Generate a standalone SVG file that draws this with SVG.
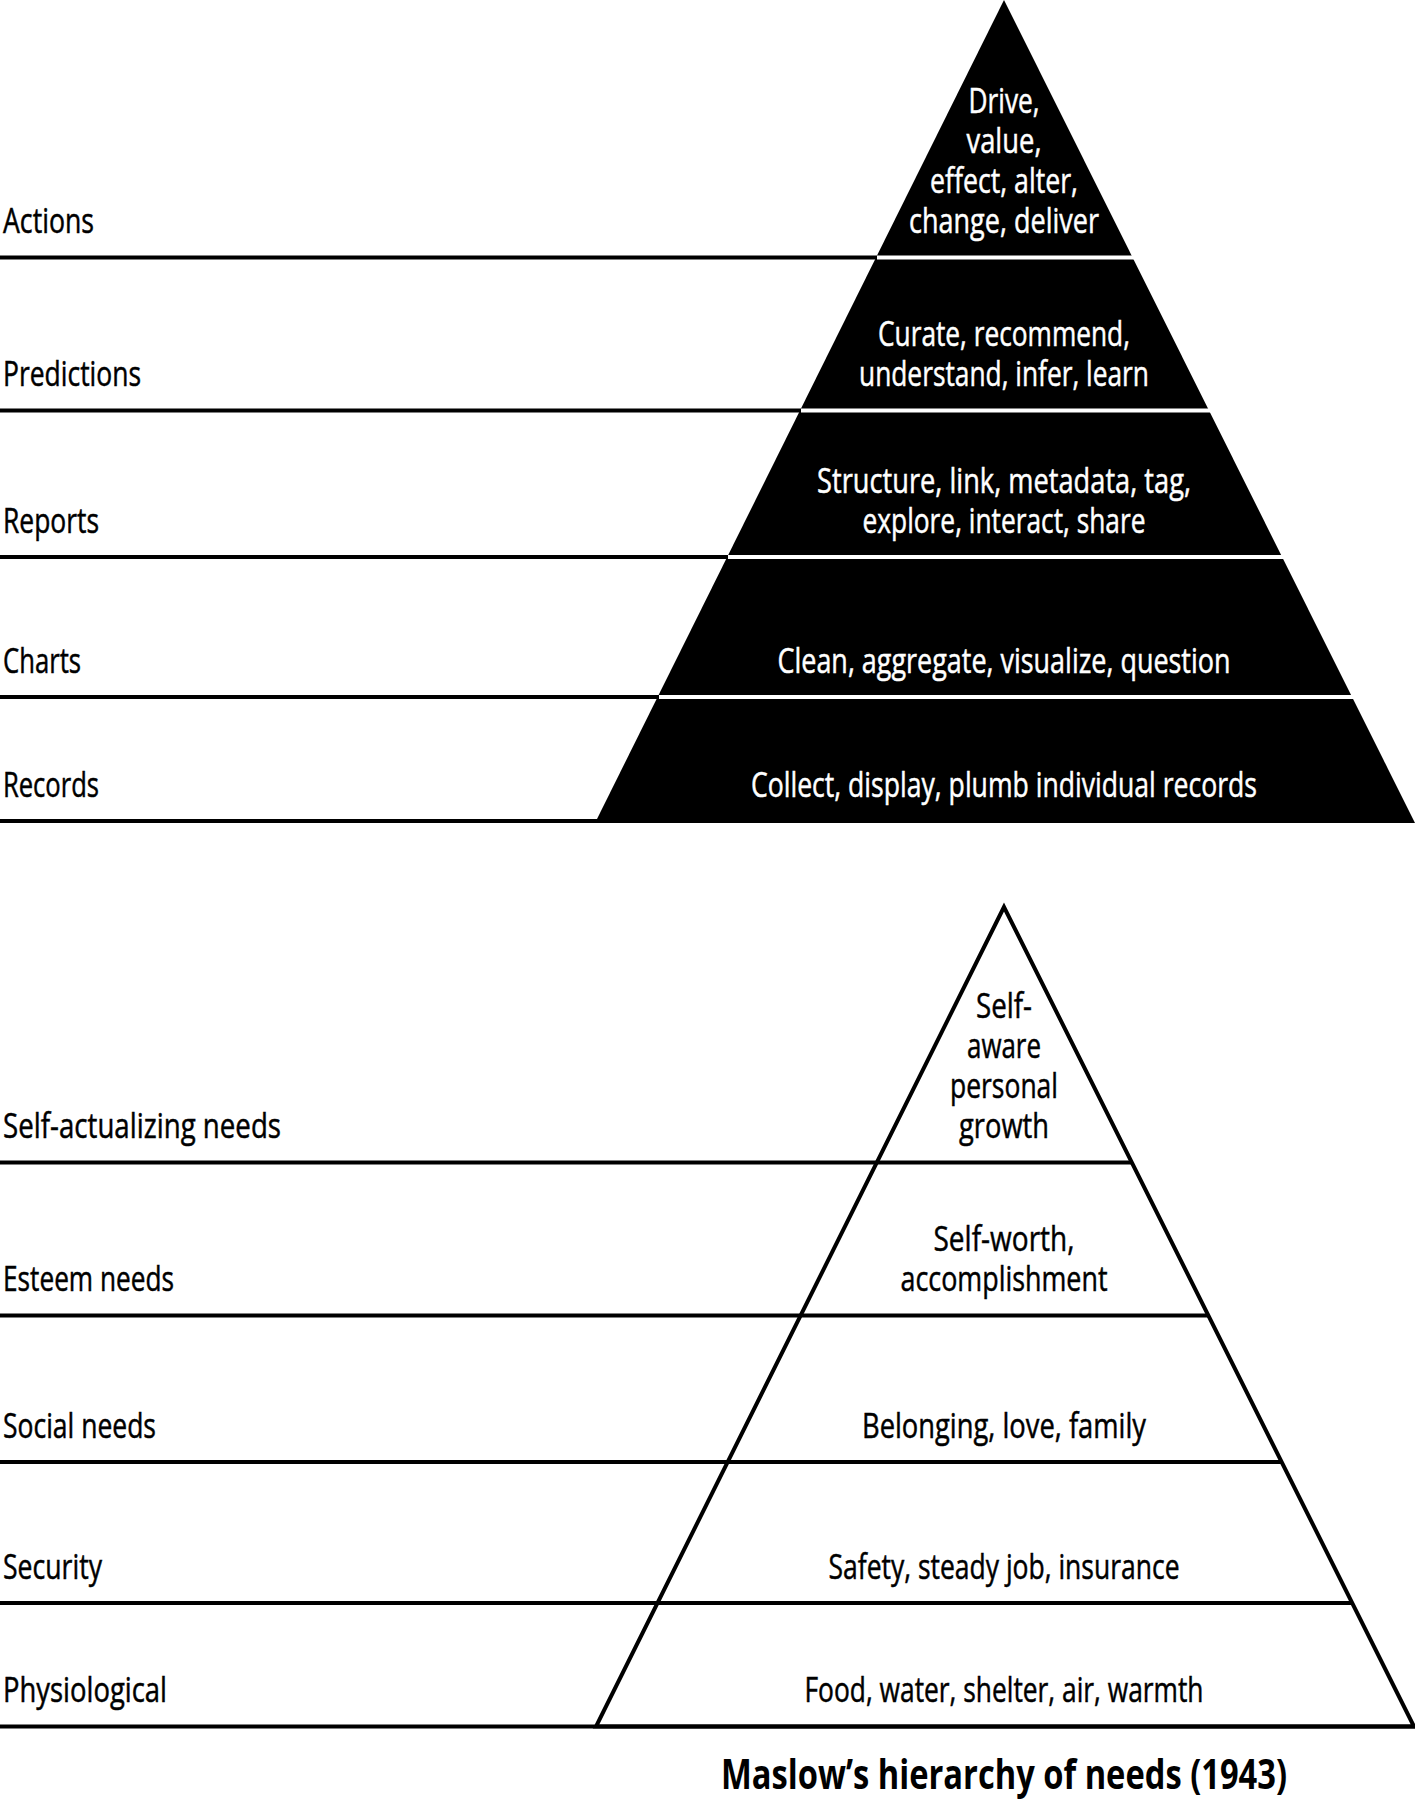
<svg xmlns="http://www.w3.org/2000/svg" width="1415" height="1804" viewBox="0 0 1415 1804">
<style>
text{font-family:"Open Sans","Liberation Sans",sans-serif;font-size:35px;}
.lbl{fill:#000;stroke:#000;stroke-width:0.5;}
.inv{fill:#fff;stroke:#fff;stroke-width:0.5;text-anchor:middle;}
.in{fill:#000;stroke:#000;stroke-width:0.5;text-anchor:middle;}
.rule{stroke:#000;stroke-width:4;fill:none;}
.gap{stroke:#fff;stroke-width:4;fill:none;}
.title{font-weight:bold;font-size:41px;text-anchor:middle;fill:#000;}
</style>
<rect width="1415" height="1804" fill="#fff"/>

<g id="top-pyramid">
  <polygon points="1004,0 595,823 1415,823" fill="#000"/>
</g>

<g id="connectors">
  <line class="rule" x1="0" y1="257.5" x2="877" y2="257.5"/>
  <line class="rule" x1="0" y1="410.5" x2="801" y2="410.5"/>
  <line class="rule" x1="0" y1="557" x2="728" y2="557"/>
  <line class="rule" x1="0" y1="697" x2="659" y2="697"/>
  <line class="rule" x1="0" y1="821" x2="597" y2="821"/>
  <line class="gap" x1="877" y1="257.5" x2="1415" y2="257.5"/>
  <line class="gap" x1="801" y1="410.5" x2="1415" y2="410.5"/>
  <line class="gap" x1="728" y1="557" x2="1415" y2="557"/>
  <line class="gap" x1="659" y1="697" x2="1415" y2="697"/>
  <line class="rule" x1="0" y1="1162.5" x2="1132" y2="1162.5"/>
  <line class="rule" x1="0" y1="1315.5" x2="1208" y2="1315.5"/>
  <line class="rule" x1="0" y1="1462" x2="1282" y2="1462"/>
  <line class="rule" x1="0" y1="1603" x2="1352" y2="1603"/>
  <line class="rule" x1="0" y1="1726.5" x2="1415" y2="1726.5"/>
</g>

<g id="bottom-pyramid">
  <polygon class="rule" points="1004,907 596,1726.5 1414,1726.5" stroke-linejoin="miter"/>
</g>

<g id="tier-actions">
  <text class="lbl" x="3" y="233" textLength="91" lengthAdjust="spacingAndGlyphs">Actions</text>
  <text class="inv" x="1004" y="113" textLength="71" lengthAdjust="spacingAndGlyphs">Drive,</text>
  <text class="inv" x="1004" y="153" textLength="75" lengthAdjust="spacingAndGlyphs">value,</text>
  <text class="inv" x="1004" y="193" textLength="148" lengthAdjust="spacingAndGlyphs">effect, alter,</text>
  <text class="inv" x="1004" y="233" textLength="190" lengthAdjust="spacingAndGlyphs">change, deliver</text>
</g>
<g id="tier-predictions">
  <text class="lbl" x="3" y="386" textLength="138" lengthAdjust="spacingAndGlyphs">Predictions</text>
  <text class="inv" x="1004" y="346" textLength="252" lengthAdjust="spacingAndGlyphs">Curate, recommend,</text>
  <text class="inv" x="1004" y="386" textLength="290" lengthAdjust="spacingAndGlyphs">understand, infer, learn</text>
</g>
<g id="tier-reports">
  <text class="lbl" x="3" y="533" textLength="96" lengthAdjust="spacingAndGlyphs">Reports</text>
  <text class="inv" x="1004" y="493" textLength="374" lengthAdjust="spacingAndGlyphs">Structure, link, metadata, tag,</text>
  <text class="inv" x="1004" y="533" textLength="283" lengthAdjust="spacingAndGlyphs">explore, interact, share</text>
</g>
<g id="tier-charts">
  <text class="lbl" x="3" y="673" textLength="78" lengthAdjust="spacingAndGlyphs">Charts</text>
  <text class="inv" x="1004" y="673" textLength="453" lengthAdjust="spacingAndGlyphs">Clean, aggregate, visualize, question</text>
</g>
<g id="tier-records">
  <text class="lbl" x="3" y="797" textLength="96" lengthAdjust="spacingAndGlyphs">Records</text>
  <text class="inv" x="1004" y="797" textLength="506" lengthAdjust="spacingAndGlyphs">Collect, display, plumb individual records</text>
</g>

<g id="tier-self-actualizing">
  <text class="lbl" x="3" y="1138" textLength="278" lengthAdjust="spacingAndGlyphs">Self-actualizing needs</text>
  <text class="in" x="1004" y="1018" textLength="56" lengthAdjust="spacingAndGlyphs">Self-</text>
  <text class="in" x="1004" y="1058" textLength="74" lengthAdjust="spacingAndGlyphs">aware</text>
  <text class="in" x="1004" y="1098" textLength="108" lengthAdjust="spacingAndGlyphs">personal</text>
  <text class="in" x="1004" y="1138" textLength="90" lengthAdjust="spacingAndGlyphs">growth</text>
</g>
<g id="tier-esteem">
  <text class="lbl" x="3" y="1291" textLength="171" lengthAdjust="spacingAndGlyphs">Esteem needs</text>
  <text class="in" x="1004" y="1251" textLength="141" lengthAdjust="spacingAndGlyphs">Self-worth,</text>
  <text class="in" x="1004" y="1291" textLength="207" lengthAdjust="spacingAndGlyphs">accomplishment</text>
</g>
<g id="tier-social">
  <text class="lbl" x="3" y="1438" textLength="153" lengthAdjust="spacingAndGlyphs">Social needs</text>
  <text class="in" x="1004" y="1438" textLength="284" lengthAdjust="spacingAndGlyphs">Belonging, love, family</text>
</g>
<g id="tier-security">
  <text class="lbl" x="3" y="1579" textLength="99" lengthAdjust="spacingAndGlyphs">Security</text>
  <text class="in" x="1004" y="1579" textLength="351" lengthAdjust="spacingAndGlyphs">Safety, steady job, insurance</text>
</g>
<g id="tier-physiological">
  <text class="lbl" x="3" y="1702" textLength="164" lengthAdjust="spacingAndGlyphs">Physiological</text>
  <text class="in" x="1004" y="1702" textLength="399" lengthAdjust="spacingAndGlyphs">Food, water, shelter, air, warmth</text>
</g>

<g id="caption">
  <text class="title" x="1004" y="1789" textLength="566" lengthAdjust="spacingAndGlyphs">Maslow’s hierarchy of needs (1943)</text>
</g>
</svg>
